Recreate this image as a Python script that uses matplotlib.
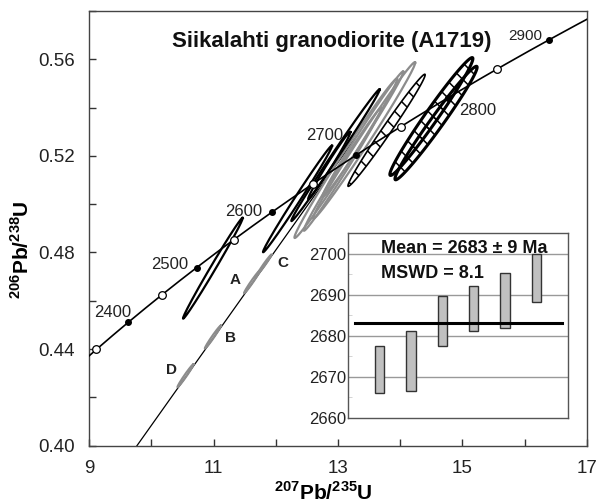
import numpy as np
import matplotlib
matplotlib.use("Agg")
import matplotlib.pyplot as plt

plt.rcParams['font.family'] = ['Liberation Sans', 'DejaVu Sans']
plt.rcParams['mathtext.fontset'] = 'custom'
plt.rcParams['mathtext.rm'] = 'Liberation Sans'
plt.rcParams['mathtext.bf'] = 'Liberation Sans:bold'
plt.rcParams['hatch.linewidth'] = 1.1

# decay constants (1/yr)
L238 = 1.55125e-10
L235 = 9.8485e-10

# concordia age marks (Ma)
filled_ages = [2400, 2500, 2600, 2700, 2800, 2900]
open_ages = [2350, 2450, 2550, 2650, 2750, 2850]
label_ages = [2400, 2500, 2600, 2700, 2800, 2900]
label_offsets = [(2, 7), (-6, 2), (-7, 0), (-9, 14), (8, -9), (-5, 3)]
label_ha = ['right', 'right', 'right', 'right', 'left', 'right']

# discordia chord
disc_x = [9.77, 13.30]
disc_y = [0.400, 0.5282]

# error ellipses: centre, 2s half-widths, correlation
black_cx = [10.99, 12.35, 12.96, 12.86]
black_cy = [0.4735, 0.5022, 0.5203, 0.5160]
black_sx = [0.48, 0.555, 0.71, 0.34]
black_sy = [0.0209, 0.0221, 0.0273, 0.0140]
black_rho = [0.995, 0.995, 0.996, 0.99]

grey_cx = [13.125, 13.42, 13.40, 13.075]
grey_cy = [0.519, 0.5264, 0.529, 0.5145]
grey_sx = [0.825, 0.82, 0.65, 0.625]
grey_sy = [0.033, 0.0324, 0.026, 0.0255]
grey_rho = [0.993, 0.993, 0.993, 0.993]

ladder_cx = [13.78, 14.50, 14.575]
ladder_cy = [0.5306, 0.5363, 0.5336]
ladder_sx = [0.62, 0.667, 0.66]
ladder_sy = [0.0232, 0.0244, 0.0235]
ladder_rho = [0.99, 0.982, 0.982]
ladder_lw = [1.2, 2.2, 2.2]

small_names = ['D', 'B', 'A', 'C']
small_cx = [10.55, 10.99, 11.62, 11.82]
small_cy = [0.4290, 0.4450, 0.4679, 0.4751]
small_sx = [0.13, 0.13, 0.13, 0.11]
small_sy = [0.0048, 0.0048, 0.0048, 0.0040]
small_offsets = [(-6, 4), (9, -1), (-8, 1), (9, 1)]
small_ha = ['right', 'left', 'right', 'left']

# weighted mean inset
spot = [1, 2, 3, 4, 5, 6]
age_lo = [2666.0, 2666.6, 2677.6, 2681.2, 2681.8, 2688.2]
age_hi = [2677.5, 2681.1, 2689.8, 2692.1, 2695.2, 2700.0]
mean_age = 2683.1


def concordia(t_ma):
    t = np.asarray(t_ma, dtype=float) * 1e6
    return np.exp(L235 * t) - 1, np.exp(L238 * t) - 1


def ellipse_xy(cx, cy, sx, sy, rho, n=200):
    th = np.linspace(0, 2 * np.pi, n)
    x = cx + sx * np.cos(th)
    y = cy + sy * (rho * np.cos(th) + np.sqrt(1 - rho ** 2) * np.sin(th))
    return x, y


fig = plt.figure(figsize=(6.11, 5.04), dpi=100)
ax = fig.add_axes([0.1457, 0.1157, 0.8150, 0.8625])

# concordia curve
cx_, cy_ = concordia(np.linspace(2300, 3000, 500))
ax.plot(cx_, cy_, color='black', lw=1.2, zorder=3)
fx, fy = concordia(filled_ages)
ax.plot(fx, fy, 'o', ms=4, color='black', zorder=4)
ox, oy = concordia(open_ages)
ax.plot(ox, oy, 'o', ms=5.5, mfc='white', mec='black', mew=0.9, zorder=4)
for age, off, ha in zip(label_ages, label_offsets, label_ha):
    ax.annotate(str(age), xy=concordia(age), xytext=off, textcoords='offset points',
                ha=ha, va='center', fontsize=12 if age != 2900 else 11, color='#222222')

# discordia
ax.plot(disc_x, disc_y, color='black', lw=0.9, zorder=2)

for i in range(len(grey_cx)):
    x, y = ellipse_xy(grey_cx[i], grey_cy[i], grey_sx[i], grey_sy[i], grey_rho[i])
    ax.plot(x, y, color='#8c8c8c', lw=1.6, zorder=2)

for i in range(len(black_cx)):
    x, y = ellipse_xy(black_cx[i], black_cy[i], black_sx[i], black_sy[i], black_rho[i])
    ax.plot(x, y, color='black', lw=1.6, zorder=2)

for i in range(len(ladder_cx)):
    x, y = ellipse_xy(ladder_cx[i], ladder_cy[i], ladder_sx[i], ladder_sy[i], ladder_rho[i])
    ax.fill(x, y, facecolor='none', edgecolor='black', lw=ladder_lw[i],
            hatch='\\\\', zorder=2)

for i in range(len(small_cx)):
    x, y = ellipse_xy(small_cx[i], small_cy[i], small_sx[i], small_sy[i], 0.985)
    ax.plot(x, y, color='#8c8c8c', lw=1.5, zorder=2)
    ax.annotate(small_names[i], xy=(small_cx[i], small_cy[i]), xytext=small_offsets[i],
                textcoords='offset points', ha=small_ha[i], va='center',
                fontsize=11, fontweight='bold', color='#222222')

ax.set_xlim(9, 17)
ax.set_ylim(0.40, 0.58)
ax.set_xticks(np.arange(9, 17.1, 1))
ax.set_xticklabels(['9', '', '11', '', '13', '', '15', '', '17'])
ax.set_yticks(np.arange(0.40, 0.581, 0.02))
ax.set_yticklabels(['0.40', '', '0.44', '', '0.48', '', '0.52', '', '0.56', ''])
ax.tick_params(direction='in', length=5, width=1, labelsize=13.5, colors='#333333',
               labelcolor='#222222', pad=10)
for s in ax.spines.values():
    s.set_color('#444444')
    s.set_linewidth(1.0)

ax.set_xlabel(r'$^{\mathbf{207}}\mathbf{Pb/}^{\mathbf{235}}\mathbf{U}$', fontsize=15,
              labelpad=3, x=0.47)
ax.set_ylabel(r'$^{\mathbf{206}}\mathbf{Pb/}^{\mathbf{238}}\mathbf{U}$', fontsize=15,
              labelpad=4, y=0.45)
ax.text(0.487, 0.93, 'Siikalahti granodiorite (A1719)', transform=ax.transAxes,
        ha='center', va='center', fontsize=16, fontweight='bold', color='#111111')

# inset: weighted mean
ins = fig.add_axes([0.5696, 0.1706, 0.3600, 0.3670])
for y in [2670, 2680, 2690, 2700]:
    ins.axhline(y, color='#999999', lw=1.0, zorder=1)
ins.bar(spot, np.array(age_hi) - np.array(age_lo), bottom=age_lo, width=0.3,
        color='#c0c0c0', edgecolor='#333333', lw=1.0, zorder=2)
ins.plot([0.22, 6.8], [mean_age, mean_age], color='black', lw=2.2, zorder=3)
ins.set_xlim(0, 7)
ins.set_ylim(2660, 2705)
ins.set_xticks([])
ins.set_yticks([2660, 2670, 2680, 2690, 2700])
ins.set_yticks([2665, 2675, 2685, 2695], minor=True)
ins.tick_params(axis='y', which='major', length=0, labelsize=12, pad=1, labelcolor='#222222')
ins.tick_params(axis='y', which='minor', direction='in', length=3, color='#cccccc')
for s in ins.spines.values():
    s.set_color('#555555')
    s.set_linewidth(1.0)
ins.text(0.15, 0.915, 'Mean = 2683 \u00b1 9 Ma', transform=ins.transAxes, ha='left',
         va='center', fontsize=13, fontweight='bold', color='#111111', zorder=5)
ins.text(0.15, 0.78, 'MSWD = 8.1', transform=ins.transAxes, ha='left',
         va='center', fontsize=13, fontweight='bold', color='#111111', zorder=5)

fig.savefig('out.png', dpi=100)
